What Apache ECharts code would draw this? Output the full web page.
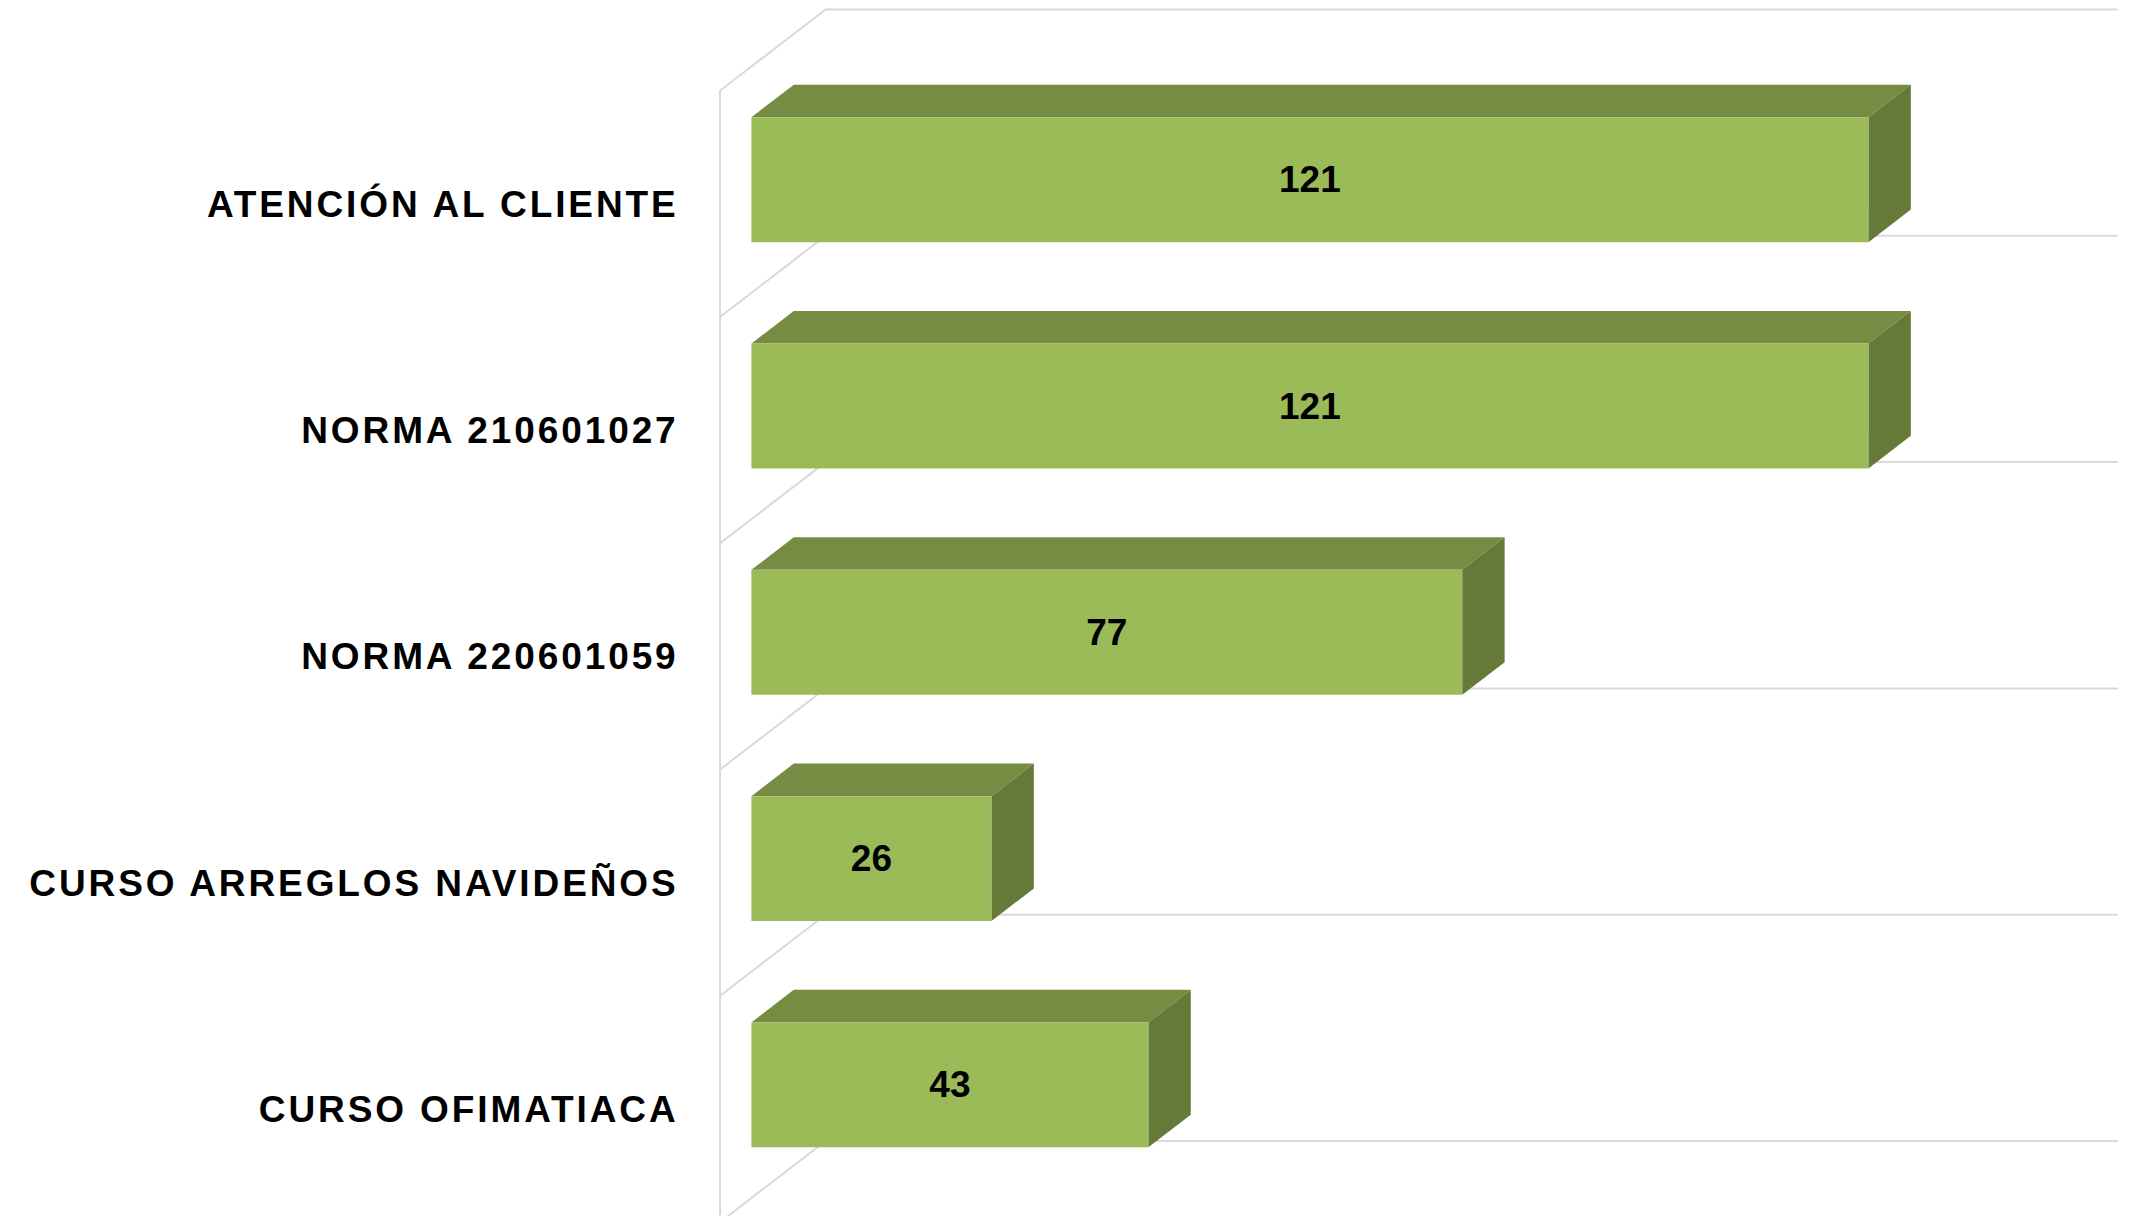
<!DOCTYPE html>
<html>
<head>
<meta charset="utf-8">
<script src="https://cdn.jsdelivr.net/npm/echarts@6/dist/echarts.min.js"></script>
<style>
  html, body { margin: 0; padding: 0; background: #ffffff; }
  #chart { width: 2129px; height: 1216px; }
</style>
</head>
<body>
<div id="chart"></div>
<script>
// ---- data ----
const categories = ['ATENCIÓN AL CLIENTE', 'NORMA 210601027', 'NORMA 220601059', 'CURSO ARREGLOS NAVIDEÑOS', 'CURSO OFIMATIACA'];
const values = [121, 121, 77, 26, 43];
const axisMin = 0;
const axisMax = 140;

// ---- 3D look (styling) ----
const DX = 106, DY = 81.5;      // depth offset of back wall from front plane
const FRONT = 0.3, BACK = 0.7;  // bar depth position
const BAR_RATIO = 0.552;
const GRID_COLOR = '#d9d9d9';
const C_FRONT = '#9bbb59', C_TOP = '#778c43', C_SIDE = '#657939';
const FONT = '"Liberation Sans", Arial, sans-serif';

const chart = echarts.init(document.getElementById('chart'), null, { renderer: 'svg' });

function gridRender(params, api) {
  const i = api.value(1);
  const s = api.coord([axisMin, i]);
  const e = api.coord([axisMax, i]);
  const band = api.size([0, 1])[1];
  const bounds = [s[1] - band / 2];
  if (i === categories.length - 1) bounds.push(s[1] + band / 2);
  const style = { stroke: GRID_COLOR, lineWidth: 2, fill: null };
  return {
    type: 'group',
    children: bounds.map(yb => ({
      type: 'polyline',
      shape: { points: [[s[0], yb], [s[0] + DX, yb - DY], [e[0] + DX, yb - DY]] },
      style: style,
      silent: true
    }))
  };
}

function barRender(params, api) {
  const v = api.value(0), i = api.value(1);
  const s = api.coord([axisMin, i]);
  const e = api.coord([v, i]);
  const band = api.size([0, 1])[1];
  const h = band * BAR_RATIO;
  const yc = s[1];
  const ftl = [s[0] + FRONT * DX, yc - h / 2 - FRONT * DY];
  const ftr = [e[0] + FRONT * DX, yc - h / 2 - FRONT * DY];
  const fbr = [e[0] + FRONT * DX, yc + h / 2 - FRONT * DY];
  const btl = [s[0] + BACK * DX, yc - h / 2 - BACK * DY];
  const btr = [e[0] + BACK * DX, yc - h / 2 - BACK * DY];
  const bbr = [e[0] + BACK * DX, yc + h / 2 - BACK * DY];
  return {
    type: 'group',
    children: [
      { type: 'polygon', shape: { points: [ftl, ftr, btr, btl] }, style: { fill: C_TOP } },
      { type: 'polygon', shape: { points: [ftr, btr, bbr, fbr] }, style: { fill: C_SIDE } },
      { type: 'rect', shape: { x: ftl[0], y: ftl[1], width: ftr[0] - ftl[0], height: h }, style: { fill: C_FRONT } },
      { type: 'text', x: (ftl[0] + ftr[0]) / 2, y: ftl[1] + h / 2,
        style: { text: String(v), fill: '#000', font: 'bold 37px ' + FONT, align: 'center', verticalAlign: 'middle' } }
    ]
  };
}

chart.setOption({
  animation: false,
  backgroundColor: '#ffffff',
  grid: { left: 719.6, width: 1292.4, top: 91, height: 1131.5, containLabel: false, outerBoundsMode: 'none' },
  xAxis: {
    type: 'value', min: axisMin, max: axisMax, interval: 20,
    show: false
  },
  yAxis: {
    type: 'category', data: categories, inverse: true,
    axisLine: { show: true, lineStyle: { color: GRID_COLOR, width: 2 } },
    axisTick: { show: false },
    splitLine: { show: false },
    axisLabel: { margin: 41, color: '#000', fontWeight: 'bold', fontSize: 37, fontFamily: FONT }
  },
  series: [
    { type: 'custom', renderItem: gridRender, clip: false, silent: true, z: 1,
      encode: { x: 0, y: 1 }, data: categories.map((c, i) => [0, i]) },
    { type: 'custom', renderItem: barRender, clip: false, z: 2,
      encode: { x: 0, y: 1 }, data: values.map((v, i) => [v, i]) }
  ]
});

function spaceLabels() {
  document.querySelectorAll('#chart text').forEach(t => {
    if (categories.indexOf(t.textContent.trim()) >= 0) t.setAttribute('letter-spacing', '2.9');
  });
}
chart.on('finished', spaceLabels);
setTimeout(spaceLabels, 50);
</script>
</body>
</html>
